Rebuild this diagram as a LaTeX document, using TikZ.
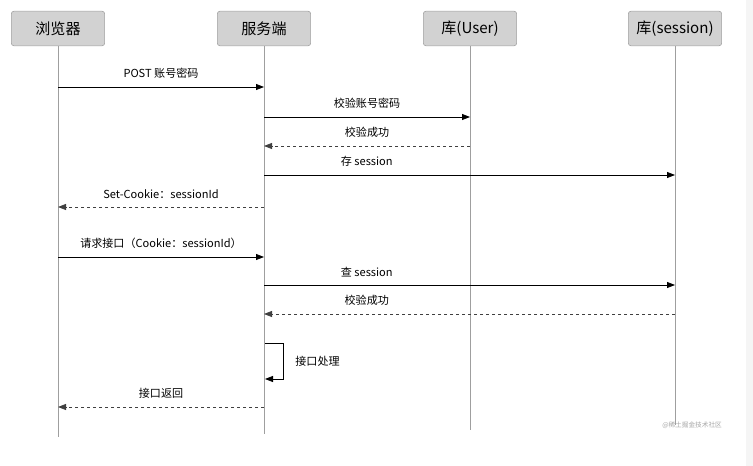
\documentclass[tikz,border=0pt]{standalone}
\usepackage{fontspec}
\setmainfont{Noto Sans CJK SC}
\usetikzlibrary{arrows.meta, positioning}

\begin{document}
\begin{tikzpicture}[x=0.75pt, y=-0.75pt,
    actor/.style={rectangle, rounded corners=2pt, draw=gray!75, fill=gray!35, minimum width=70pt, minimum height=26pt, font=\fontsize{11.3}{13}\selectfont},
    life/.style={draw=gray!75, line width=0.6pt},
    msg/.style={-{Triangle[length=6pt, width=4.5pt]}, line width=0.6pt},
    reply/.style={msg, dash pattern=on 2.5pt off 2pt, draw=black!75},
    lbl/.style={font=\fontsize{8.3}{10}\selectfont, inner sep=1pt}]

    \useasboundingbox (0,0) rectangle (753,466);
    \fill[gray!8] (746,0) rectangle (753,466);

    % Participants
    \node[actor] (browser) at (58,28.5) {浏览器};
    \node[actor] (server) at (264,28.5) {服务端};
    \node[actor] (userdb) at (470,28.5) {库(User)};
    \node[actor] (sessdb) at (675,28.5) {库(session)};

    % Lifelines
    \coordinate (browser-end) at (58,437);
    \coordinate (server-end) at (264,434);
    \coordinate (userdb-end) at (470,430);
    \coordinate (sessdb-end) at (675,425);
    \draw[life] (browser) -- (browser-end);
    \draw[life] (server) -- (server-end);
    \draw[life] (userdb) -- (userdb-end);
    \draw[life] (sessdb) -- (sessdb-end);

    % Login
    \coordinate (m1a) at (58,87);   \coordinate (m1b) at (264,87);
    \coordinate (m2a) at (264,117); \coordinate (m2b) at (470,117);
    \coordinate (m3a) at (470,146); \coordinate (m3b) at (264,146);
    \coordinate (m4a) at (264,175); \coordinate (m4b) at (675,175);
    \coordinate (m5a) at (264,207); \coordinate (m5b) at (58,207);
    \draw[msg] (m1a) -- node[lbl, above=5pt] {POST 账号密码} (m1b);
    \draw[msg] (m2a) -- node[lbl, above=5pt] {校验账号密码} (m2b);
    \draw[reply] (m3a) -- node[lbl, above=5pt] {校验成功} (m3b);
    \draw[msg] (m4a) -- node[lbl, above=5pt, pos=0.25] {存 session} (m4b);
    \draw[reply] (m5a) -- node[lbl, above=5pt] {Set-Cookie：sessionId} (m5b);

    % Request
    \coordinate (m6a) at (58,257);  \coordinate (m6b) at (264,257);
    \coordinate (m7a) at (264,285); \coordinate (m7b) at (675,285);
    \coordinate (m8a) at (675,314); \coordinate (m8b) at (264,314);
    \coordinate (m9a) at (265,343); \coordinate (m9b) at (265,379);
    \coordinate (m10a) at (264,407); \coordinate (m10b) at (58,407);
    \draw[msg] (m6a) -- node[lbl, above=5pt] {请求接口（Cookie：sessionId）} (m6b);
    \draw[msg] (m7a) -- node[lbl, above=5pt, pos=0.25] {查 session} (m7b);
    \draw[reply] (m8a) -- node[lbl, above=5pt, pos=0.75] {校验成功} (m8b);
    \draw[msg] (m9a) -- ++(18,0) |- node[lbl, right=8pt, pos=0.25] {接口处理} (m9b);
    \draw[reply] (m10a) -- node[lbl, above=5pt] {接口返回} (m10b);

    % Watermark
    \node[font=\fontsize{5}{6}\selectfont, text=gray!70, anchor=west, inner sep=0pt] (mark) at (662,425) {@稀土掘金技术社区};
\end{tikzpicture}
\end{document}
